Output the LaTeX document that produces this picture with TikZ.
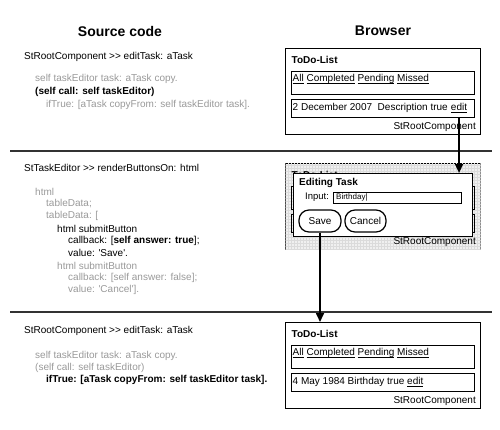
\documentclass[tikz,border=0pt]{standalone}
\usepackage{fontspec}
\setmainfont{Liberation Sans}
\usetikzlibrary{arrows.meta,patterns}
\newcommand\lnk[1]{\underline{\smash{#1}}}
\tikzset{
 txt/.style={anchor=west, inner sep=0pt, font=\fontsize{10}{12}\selectfont},
 gtxt/.style={txt, text=black!40},
 btxt/.style={txt, font=\fontsize{10}{12}\selectfont\bfseries},
 ttl/.style={inner sep=0pt, font=\fontsize{14}{16}\selectfont\bfseries},
 frame/.style={draw, line width=1.2pt, anchor=north west, inner sep=0pt, minimum width=195pt, minimum height=86pt},
 hatch/.style={fill=gray!12, postaction={pattern=grid, pattern color=gray!28}},
 inbox/.style={draw, line width=1.2pt, anchor=north west, inner sep=0pt, minimum width=183pt},
 sepline/.style={line width=1.1pt, draw=black!80},
 arr/.style={line width=1.6pt, -{Triangle[length=9pt,width=8pt]}},
 btn/.style={draw, line width=1.2pt, rounded corners=10pt, minimum height=22pt, inner sep=0pt, font=\fontsize{10}{12}\selectfont},
}
% #1 prefix, #2 top y, #3 row text
\newcommand\todocomp[3]{%
 \node[frame] (#1) at (285,#2) {};
 \node[btxt] (#1t) at (291.5,#2+12) {ToDo-List};
 \node[inbox, minimum height=23pt] (#1a) at (291,#2+23) {};
 \node[txt] (#1al) at (292.5,#2+34.5) {\lnk{All} \lnk{Completed} \lnk{Pending} \lnk{Missed}};
 \node[inbox, minimum height=18pt] (#1b) at (291,#2+51) {};
 \node[txt] (#1bl) at (292.5,#2+60) {#3};
 \node[txt, anchor=east] (#1s) at (476,#2+79) {StRootComponent};
}
\begin{document}
\begin{tikzpicture}[x=1pt,y=-1pt]
\useasboundingbox (0,0) rectangle (500,429);
% titles
\node[ttl] (h1) at (120,31) {Source code};
\node[ttl] (h2) at (383,31) {Browser};
% separators
\coordinate (s1a) at (10,151); \coordinate (s1b) at (492,151);
\coordinate (s2a) at (10,312); \coordinate (s2b) at (492,312);
\draw[sepline] (s1a) -- (s1b);
\draw[sepline] (s2a) -- (s2b);
% top code
\node[txt] (c1) at (24,57) {StRootComponent >{}> editTask: aTask};
\node[gtxt] (c2) at (35,79) {self taskEditor task: aTask copy.};
\node[btxt] (c3) at (35,92) {(self call: self taskEditor)};
\node[gtxt] (c4) at (46,104.5) {ifTrue: [aTask copyFrom: self taskEditor task].};
% middle code
\node[txt] (m1) at (24,168) {StTaskEditor >{}> renderButtonsOn: html};
\node[gtxt] (m2) at (35,192) {html};
\node[gtxt] (m3) at (46,204) {tableData;};
\node[gtxt] (m4) at (46,216) {tableData: [};
\node[txt] (m5) at (57,228.5) {html submitButton};
\node[txt] (m6) at (68,240.5) {callback: [\textbf{self answer: true}];};
\node[txt] (m7) at (68,252.5) {value: \textquotesingle Save\textquotesingle .};
\node[gtxt] (m8) at (57,266) {html submitButton};
\node[gtxt] (m9) at (68,278) {callback: [self answer: false];};
\node[gtxt] (m10) at (68,290) {value: \textquotesingle Cancel\textquotesingle ].};
% bottom code
\node[txt] (d1) at (24,331) {StRootComponent >{}> editTask: aTask};
\node[gtxt] (d2) at (35,356) {self taskEditor task: aTask copy.};
\node[gtxt] (d3) at (35,368) {(self call: self taskEditor)};
\node[btxt] (d4) at (46,380) {ifTrue: [aTask copyFrom: self taskEditor task].};
% top browser
\todocomp{t}{48}{2 December 2007\ \ Description true}
\node[anchor=base west, inner sep=0pt, font=\fontsize{10}{12}\selectfont] (edit1) at ([xshift=2.8pt]tbl.base east) {\lnk{edit}};
% middle browser (greyed component behind the dialog)
\node[frame, hatch] (m) at (285,163) {};
\begin{scope}
 \clip (286,164) rectangle (479,172.5);
 \node[btxt] (mt) at (291.5,175) {ToDo-List};
\end{scope}
\node[inbox, minimum height=23pt] (ma) at (291,186) {};
\node[inbox, minimum height=18pt] (mb) at (291,214) {};
\node[draw, fill=white, line width=1.2pt, anchor=north west, inner sep=0pt, minimum width=179pt, minimum height=63pt] (dlg) at (293,173) {};
\node[txt, anchor=east] (ms) at (476,242) {StRootComponent};
\node[btxt] (dlgt) at (299,182.5) {Editing Task};
\node[txt, font=\fontsize{9.5}{11}\selectfont] (inl) at (305,197.5) {Input:};
\node[draw, line width=1pt, anchor=north west, inner sep=0pt, minimum width=128pt, minimum height=10.5pt] (fld) at (333,192) {};
\node[txt, font=\fontsize{8}{9}\selectfont] (fldt) at (336,197.3) {Birthday|};
\node[btn, minimum width=42pt] (save) at (320,221) {Save};
\node[btn, minimum width=41pt] (cancel) at (365.5,221) {Cancel};
% bottom browser
\todocomp{b}{322}{4 May 1984 Birthday true \lnk{edit}}
% arrows
\draw[arr] (edit1.south |- tb.south) -- (edit1.south |- dlg.north);
\draw[arr] (save.south) -- (save.south |- b.north);
\end{tikzpicture}
\end{document}
